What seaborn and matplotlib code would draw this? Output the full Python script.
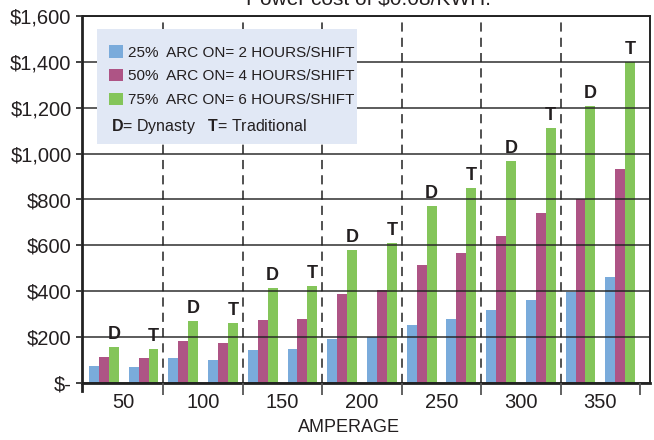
import numpy as np
import pandas as pd
import seaborn as sns
import matplotlib.pyplot as plt
from matplotlib import font_manager
from matplotlib.patches import Rectangle
from matplotlib.ticker import FuncFormatter

# amperage groups, each with a Dynasty (D) and a Traditional (T) cluster
amps = [50, 100, 150, 200, 250, 300, 350]
kinds = ["D", "T"]
series = ["25%  ARC ON= 2 HOURS/SHIFT",
          "50%  ARC ON= 4 HOURS/SHIFT",
          "75%  ARC ON= 6 HOURS/SHIFT"]
colors = ["#7AABDB", "#AE5485", "#84C55A"]

dyn_25 = [73, 108, 146, 190, 251, 319, 397]
dyn_50 = [113, 183, 274, 387, 516, 642, 803]
dyn_75 = [158, 270, 413, 579, 772, 969, 1206]
trad_25 = [69, 101, 149, 200, 278, 364, 463]
trad_50 = [110, 175, 278, 404, 566, 740, 933]
trad_75 = [147, 260, 422, 610, 848, 1112, 1400]

yticks = [0, 200, 400, 600, 800, 1000, 1200, 1400, 1600]

vals = {"D": [dyn_25, dyn_50, dyn_75], "T": [trad_25, trad_50, trad_75]}
rows = []
for i, a in enumerate(amps):
    for k in kinds:
        for s, v in zip(series, vals[k]):
            rows.append({"cat": f"{a}{k}", "series": s, "cost": v[i]})
df = pd.DataFrame(rows)
cats = [f"{a}{k}" for a in amps for k in kinds]
marks = [k for a in amps for k in kinds]

# narrowest Helvetica-like face that is installed
have = {f.name for f in font_manager.fontManager.ttflist}
fam = next(f for f in ['Liberation Sans Narrow', 'Liberation Sans', 'DejaVu Sans']
           if f in have)

sns.set_style("white")
plt.rcParams['font.family'] = [fam, 'DejaVu Sans']
plt.rcParams['mathtext.fontset'] = 'custom'
plt.rcParams['mathtext.bf'] = fam + ':bold'
plt.rcParams['mathtext.rm'] = fam
txt = '#231F20'

W, H = 654, 440
fig = plt.figure(figsize=(W / 100, H / 100), dpi=100)
ax = fig.add_axes([82 / W, 1 - 383 / H, 568 / W, 367 / H])

sns.barplot(data=df, x="cat", y="cost", hue="series", order=cats,
            hue_order=series, palette=colors, saturation=1, width=0.75,
            linewidth=0, ax=ax, legend=False)

ax.set_xlim(-0.55, 13.75)
ax.set_ylim(0, 1600)

# dashed separators between amperage groups
for b in np.arange(1.5, 12, 2):
    ax.axvline(b, color='#222222', lw=1.1, ls=(0, (6, 4)), zorder=0.5)

# y axis
ax.set_yticks(yticks)
ax.yaxis.set_major_formatter(FuncFormatter(
    lambda v, p: r"\$-" if v == 0 else r"\${:,.0f}".format(v)))
ax.yaxis.grid(True, color='#222222', lw=1.3, alpha=0.8)
ax.set_axisbelow(False)
ax.tick_params(axis='y', left=True, length=4, width=1.3, color='#333333',
               labelsize=14.5, labelcolor=txt, pad=3.5)

# x axis: ticks on group edges, labels in group centres
ax.set_xticks(np.arange(1.5, 14, 2))
ax.set_xticklabels([])
ax.set_xticks(np.arange(0.5, 14, 2), minor=True)
ax.set_xticklabels([str(a) for a in amps], minor=True)
ax.tick_params(axis='x', which='major', bottom=True, length=8.6, width=1.3,
               color='#555555')
ax.tick_params(axis='x', which='minor', bottom=True, length=0,
               labelsize=14.5, labelcolor=txt, pad=7)
ax.set_xlabel("AMPERAGE", fontsize=13, color=txt)
ax.xaxis.set_label_coords(0.47, -0.1226)
ax.xaxis.label.set_va('center')
ax.set_ylabel("")

for side in ['left', 'bottom']:
    ax.spines[side].set_linewidth(2)
    ax.spines[side].set_color('#222222')
ax.spines['left'].set_bounds(-35, 1600)
for side in ['top', 'right']:
    ax.spines[side].set_linewidth(1.4)
    ax.spines[side].set_color('#222222')

# D / T marks above the green bars
ax.bar_label(ax.containers[2], labels=marks, padding=3, fontsize=13,
             fontweight='bold', color=txt)

# legend box
def ax_x(px):
    return (px - 82) / 568

def ax_y(py):
    return (383 - py) / 367

ax.add_patch(Rectangle((ax_x(97), ax_y(144)), ax_x(357) - ax_x(97),
                       ax_y(29) - ax_y(144), transform=ax.transAxes,
                       facecolor='#E1E8F5', edgecolor='none', zorder=6))
handles = [c.patches[0] for c in ax.containers[:3]]
leg = ax.legend(handles, series, loc='upper left',
                bbox_to_anchor=(ax_x(109), ax_y(45)), frameon=False,
                fontsize=11, handlelength=0.9, handleheight=0.9,
                handletextpad=0.35, labelspacing=0.6, borderpad=0,
                borderaxespad=0)
leg.set_zorder(7)
for t in leg.get_texts():
    t.set_color(txt)
ax.text(ax_x(111), ax_y(127), r"$\mathbf{D}$= Dynasty   $\mathbf{T}$= Traditional",
        transform=ax.transAxes, fontsize=11.5, color=txt, va='center',
        ha='left', zorder=8)

fig.text(368 / W, 1 - 5 / H, r"Power cost of \$0.08/KWH.", ha='center',
         va='baseline', fontsize=15, color=txt)

fig.savefig("out.png", dpi=100)
